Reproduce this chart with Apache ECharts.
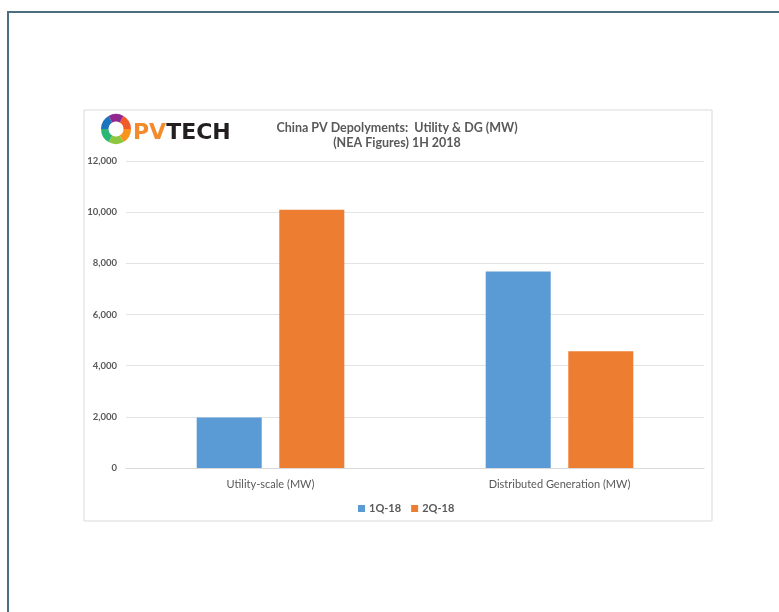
<!DOCTYPE html>
<html>
<head>
<meta charset="utf-8">
<script src="https://cdn.jsdelivr.net/npm/echarts@6/dist/echarts.min.js"></script>
<style>
  html, body { margin: 0; padding: 0; background: #ffffff; }
  #chart { width: 779px; height: 612px; }
</style>
</head>
<body>
<div id="chart"></div>
<script>
// Categories, quarterly deployments (MW) and axis ticks
const categories = ['Utility-scale (MW)', 'Distributed Generation (MW)'];
const seriesNames = ['1Q-18', '2Q-18'];
const q1Values = [1970, 7680];
const q2Values = [10090, 4560];
const yTicks = { min: 0, max: 12000, interval: 2000 };

const FONT = 'Lato, "Open Sans", sans-serif';
const GRAY = '#595959';

// Colourful ring of the logo, built from sector pieces
const ringColors = ['#f15a29', '#f7941d', '#8dc63f', '#2bb673', '#1c75bc', '#92278f'];
const ring = ringColors.map((c, i) => ({
  type: 'sector',
  shape: {
    cx: 116, cy: 129, r: 15, r0: 7.5,
    startAngle: (300 + i * 60) * Math.PI / 180,
    endAngle: (300 + (i + 1) * 60) * Math.PI / 180
  },
  style: { fill: c },
  z: 10
}));

const chart = echarts.init(document.getElementById('chart'), null, { renderer: 'canvas' });

chart.setOption({
  backgroundColor: '#ffffff',
  animation: false,
  color: ['#5B9BD5', '#ED7D31'],
  graphic: [
    {
      type: 'rect',
      shape: { x: 8, y: 12, width: 820, height: 700 },
      style: { fill: 'none', stroke: '#4d6e80', lineWidth: 2 },
      z: -10
    },
    {
      type: 'rect',
      shape: { x: 84, y: 110, width: 628, height: 411 },
      style: { fill: '#ffffff', stroke: '#d9d9d9', lineWidth: 1 },
      z: -9
    },
    ...ring,
    {
      type: 'text',
      x: 133, y: 133,
      style: {
        text: '{pv|PV}{tech|TECH}',
        verticalAlign: 'middle',
        rich: {
          pv: { fontFamily: '"DejaVu Sans", sans-serif', fontWeight: 'bold', fontSize: 22, fill: '#f38b2c' },
          tech: { fontFamily: '"DejaVu Sans", sans-serif', fontWeight: 'bold', fontSize: 22, fill: '#231f20' }
        }
      },
      z: 10
    },
    {
      type: 'text',
      x: 397, y: 135,
      style: {
        text: 'China PV Depolyments:  Utility & DG (MW)\n(NEA Figures) 1H 2018',
        align: 'center',
        verticalAlign: 'middle',
        fontFamily: FONT,
        fontWeight: 'bold',
        fontSize: 12.5,
        lineHeight: 15,
        fill: GRAY
      },
      z: 10
    }
  ],
  grid: { left: 126, right: 75, top: 161, bottom: 144, containLabel: false },
  legend: {
    data: seriesNames,
    left: 353,
    top: 498,
    icon: 'rect',
    itemWidth: 7,
    itemHeight: 7,
    itemGap: 10,
    textStyle: { fontFamily: FONT, fontWeight: 'bold', fontSize: 11, color: GRAY, padding: [0, 0, 0, -1] }
  },
  xAxis: {
    type: 'category',
    data: categories,
    axisLine: { show: true, lineStyle: { color: '#d9d9d9', width: 1 } },
    axisTick: { show: false },
    axisLabel: { fontFamily: FONT, fontSize: 11, color: GRAY, margin: 11 }
  },
  yAxis: {
    type: 'value',
    min: yTicks.min,
    max: yTicks.max,
    interval: yTicks.interval,
    axisLine: { show: false },
    axisTick: { show: false },
    splitLine: { lineStyle: { color: '#e3e3e3', width: 1 } },
    axisLabel: {
      fontFamily: FONT, fontWeight: 'bold', fontSize: 9.5, color: GRAY, margin: 9,
      formatter: v => v.toLocaleString('en-US')
    }
  },
  series: [
    { name: seriesNames[0], type: 'bar', data: q1Values, barWidth: '22.5%', barGap: '27%' },
    { name: seriesNames[1], type: 'bar', data: q2Values, barWidth: '22.5%', barGap: '27%' }
  ]
});
</script>
</body>
</html>
